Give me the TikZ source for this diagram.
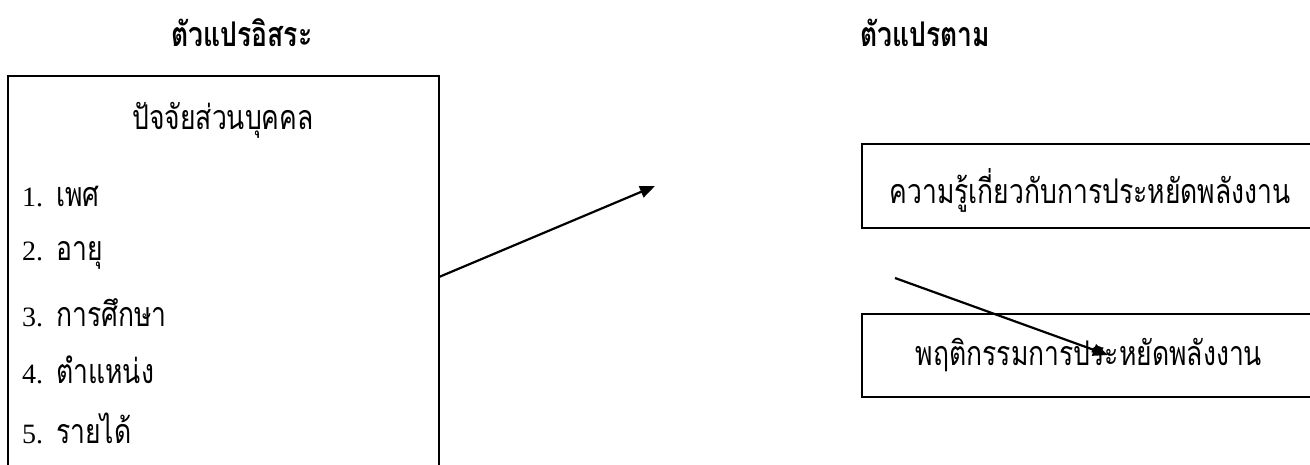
\documentclass[tikz,border=0pt]{standalone}
\usepackage{fontspec}
\setmainfont{Liberation Serif}
\newfontfamily\thai[Script=Thai,FakeStretch=0.78]{Loma}
\usetikzlibrary{arrows.meta}
\newcommand{\thaisize}{\fontsize{34}{38}\selectfont}
\tikzset{
  frame/.style={draw=black, line width=2pt},
  title/.style={font=\thai\bfseries\thaisize},
  label/.style={font=\thai\thaisize},
  item/.style={anchor=west, inner sep=0pt, font=\fontsize{28}{32}\selectfont},
  link/.style={draw=black, line width=2.2pt, -{Triangle[length=15pt,width=12pt]}}
}
\begin{document}
\begin{tikzpicture}[x=1pt,y=-1pt]
\useasboundingbox (0,0) rectangle (1310,464);
\clip (0,0) rectangle (1310,464);
% column headings
\node[title] (hin) at (242,33) {ตัวแปรอิสระ};
\node[title] (hout) at (925,33) {ตัวแปรตาม};
% personal factors box
\draw[frame] (8,76) rectangle (439,500);
\coordinate (pstart) at (439,277);
\node[label] (ptitle) at (223,120) {ปัจจัยส่วนบุคคล};
\node[item] (i1) at (22,197) {1.\hspace{13pt}{\thai\thaisize เพศ}};
\node[item] (i2) at (22,255) {2.\hspace{13pt}{\thai\thaisize อายุ}};
\node[item] (i3) at (22,313) {3.\hspace{13pt}{\thai\thaisize การศึกษา}};
\node[item] (i4) at (22,370) {4.\hspace{13pt}{\thai\thaisize ตำแหน่ง}};
\node[item] (i5) at (22,428) {5.\hspace{13pt}{\thai\thaisize รายได้}};
% dependent variable boxes
\draw[frame] (1330,144) -- (862,144) -- (862,228) -- (1330,228);
\node[label] (know) at (1090,190) {ความรู้เกี่ยวกับการประหยัดพลังงาน};
\draw[frame] (1330,314) -- (862,314) -- (862,397) -- (1330,397);
\node[label] (behav) at (1089,355) {พฤติกรรมการประหยัดพลังงาน};
% arrows
\coordinate (a1end) at (655,186);
\draw[link] (pstart) -- (a1end);
\coordinate (a2start) at (895,278);
\coordinate (a2end) at (1108,355);
\draw[link] (a2start) -- (a2end);
\end{tikzpicture}
\end{document}
